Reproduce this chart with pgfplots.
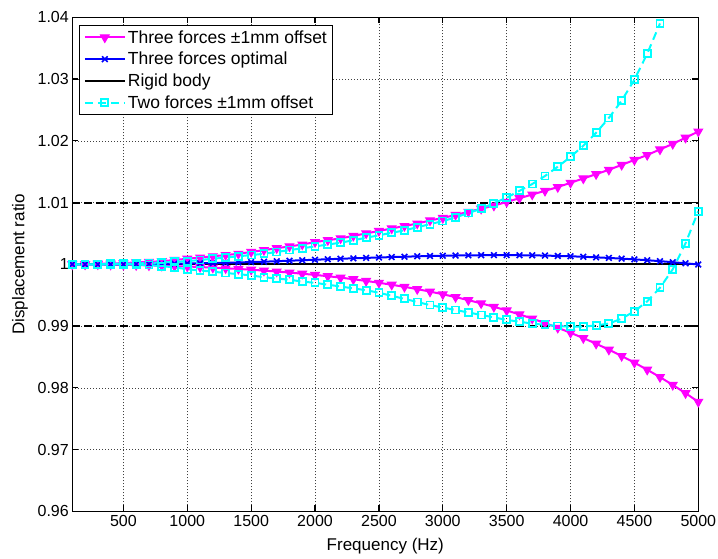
\documentclass[border=0pt]{standalone}
\usepackage{fontspec}
\setmainfont{Liberation Sans}
\usepackage{pgfplots}
\usepackage{pgfplotstable}
\pgfplotsset{compat=1.18}
\definecolor{mag}{RGB}{255,0,255}
\definecolor{cy}{RGB}{0,255,255}
\definecolor{bl}{RGB}{0,0,255}
\pgfplotstableread{
f mu ml b cu cl
100 1.0000 1.0000 1.0000 1.0000 1.0000
200 1.0000 1.0000 1.0000 1.0000 1.0000
300 1.0001 1.0000 1.0000 1.0000 1.0000
400 1.0001 0.99994 1.0000 1.0001 1.0000
500 1.0002 0.99991 1.0000 1.0001 1.0000
600 1.0003 0.99987 1.00002 1.00015 0.99995
700 1.0004 0.99983 1.00004 1.0002 0.9999
800 1.0005 0.99977 1.00007 1.0003 0.9997
900 1.0007 0.99971 1.0001 1.0004 0.9995
1000 1.0009 0.99964 1.00013 1.0005 0.9992
1100 1.0011 0.99956 1.00016 1.0007 0.9990
1200 1.0013 0.99946 1.0002 1.0009 0.9988
1300 1.0015 0.99936 1.00025 1.0011 0.9986
1400 1.0017 0.99925 1.0003 1.0013 0.9984
1500 1.0020 0.99912 1.00036 1.0015 0.9982
1600 1.0023 0.99898 1.00042 1.0017 0.9979
1700 1.0026 0.99883 1.0005 1.0020 0.9977
1800 1.0029 0.99866 1.00058 1.0023 0.9975
1900 1.0032 0.99848 1.00066 1.0026 0.9972
2000 1.0036 0.99828 1.00074 1.0029 0.9970
2100 1.0039 0.99807 1.00082 1.0032 0.9967
2200 1.0042 0.99784 1.0009 1.0035 0.9964
2300 1.0046 0.99758 1.00097 1.0039 0.9961
2400 1.0050 0.99731 1.00104 1.0043 0.9958
2500 1.0054 0.99701 1.0011 1.0047 0.9954
2600 1.0058 0.99669 1.00117 1.0051 0.9949
2700 1.0062 0.99635 1.00123 1.0055 0.9944
2800 1.0066 0.99598 1.00129 1.0060 0.9939
2900 1.0071 0.99558 1.00134 1.0065 0.9934
3000 1.0075 0.99515 1.00138 1.0070 0.9930
3100 1.0080 0.99469 1.00142 1.0076 0.9926
3200 1.0085 0.99420 1.00145 1.0083 0.9922
3300 1.0090 0.99368 1.00147 1.0090 0.9918
3400 1.0095 0.99312 1.00148 1.0099 0.9914
3500 1.0101 0.99252 1.00148 1.0108 0.9910
3600 1.0107 0.99189 1.00147 1.0119 0.9907
3700 1.0113 0.99121 1.00145 1.0130 0.9904
3800 1.0119 0.99049 1.00141 1.0143 0.9902
3900 1.0125 0.98972 1.00136 1.0158 0.9900
4000 1.0132 0.98891 1.0013 1.0174 0.9899
4100 1.0139 0.98805 1.00122 1.0192 0.9899
4200 1.0146 0.98714 1.00113 1.0213 0.9901
4300 1.0153 0.98617 1.00103 1.0237 0.9904
4400 1.0161 0.98515 1.00092 1.0265 0.9912
4500 1.0169 0.98407 1.0008 1.0299 0.9924
4600 1.0177 0.98293 1.00066 1.0341 0.9940
4700 1.0186 0.98173 1.00051 1.0390 0.9962
4800 1.0195 0.98047 1.00034 nan 0.9992
4900 1.0205 0.97913 1.00016 nan 1.0034
5000 1.0215 0.97773 0.99997 nan 1.0086
}\datatable
\begin{document}
\begin{tikzpicture}
\begin{axis}[
  name=main,
  scale only axis,
  width=626pt, height=494pt,
  xmin=100, xmax=5000, ymin=0.96, ymax=1.04,
  xtick={500,1000,1500,2000,2500,3000,3500,4000,4500,5000},
  ytick={0.96,0.97,0.98,0.99,1,1.01,1.02,1.03,1.04},
  scaled ticks=false,
  /pgf/number format/assume math mode=true,
  /pgf/number format/1000 sep={},
  tick label style={font=\fontsize{16}{19}\selectfont},
  label style={font=\fontsize{17}{20}\selectfont},
  xlabel={Frequency (Hz)},
  ylabel={Displacement ratio},
  xlabel style={at={(axis description cs:0.5,-0.070)}, anchor=center},
  ylabel style={at={(axis description cs:-0.0835,0.5)}, anchor=center},
  tick align=inside,
  major tick length=6pt,
  axis line style={line width=1.2pt},
  tick style={black, line width=1.2pt},
  grid=major,
  major grid style={black!75, line width=0.6pt, dash pattern=on 1pt off 2pt},
  legend style={at={(axis description cs:0.0112,0.9844)}, anchor=north west,
    draw=black, line width=0.8pt, fill=white,
    font=\fontsize{17.5}{21}\selectfont, inner xsep=4pt, inner ysep=3pt,
    row sep=3.5pt},
  legend cell align=left,
  legend image code/.code={\draw[mark repeat=2,mark phase=2] plot coordinates {(0pt,0pt) (20pt,0pt) (40pt,0pt)};},
]
\addlegendimage{mag, line width=2pt, mark=triangle*, mark size=5pt, mark options={rotate=180, solid, fill=mag, line width=1pt}}
\addlegendentry{Three forces ±1mm offset\hspace{14pt}}
\addlegendimage{bl, line width=2pt, mark=x, mark size=4pt, mark options={solid, line width=1.6pt}}
\addlegendentry{Three forces optimal}
\addlegendimage{black, line width=2.2pt}
\addlegendentry{Rigid body}
\addlegendimage{cy, line width=2pt, dash pattern=on 8pt off 5pt, mark=square, mark size=3.5pt, mark options={solid, line width=1.8pt}}
\addlegendentry{Two forces ±1mm offset}

\addplot[black, line width=2pt, dash pattern=on 8pt off 4pt, forget plot] coordinates {(100,1.01) (5000,1.01)};
\addplot[black, line width=2pt, dash pattern=on 8pt off 4pt, forget plot] coordinates {(100,0.99) (5000,0.99)};

\addplot[mag, line width=2pt, mark=triangle*, mark size=5pt, mark options={rotate=180, solid, fill=mag, line width=1pt}, forget plot] table[x=f, y=mu] {\datatable};
\addplot[mag, line width=2pt, mark=triangle*, mark size=5pt, mark options={rotate=180, solid, fill=mag, line width=1pt}, forget plot] table[x=f, y=ml] {\datatable};
\addplot[black, line width=2.2pt, forget plot] coordinates {(100,1) (5000,1)};
\addplot[bl, line width=2pt, mark=x, mark size=4pt, mark options={solid, line width=1.6pt}, forget plot] table[x=f, y=b] {\datatable};
\addplot[cy, line width=2pt, dash pattern=on 8pt off 5pt, mark=square, mark size=3.5pt, mark options={solid, line width=1.8pt}, forget plot] table[x=f, y=cu] {\datatable};
\addplot[cy, line width=2pt, dash pattern=on 8pt off 5pt, mark=square, mark size=3.5pt, mark options={solid, line width=1.8pt}, forget plot] table[x=f, y=cl] {\datatable};
\end{axis}
\pgfresetboundingbox
\path[use as bounding box] ([xshift=-72.3pt,yshift=-47.5pt]main.south west) rectangle ([xshift=19.7pt,yshift=17.3pt]main.north east);
\end{tikzpicture}
\end{document}
